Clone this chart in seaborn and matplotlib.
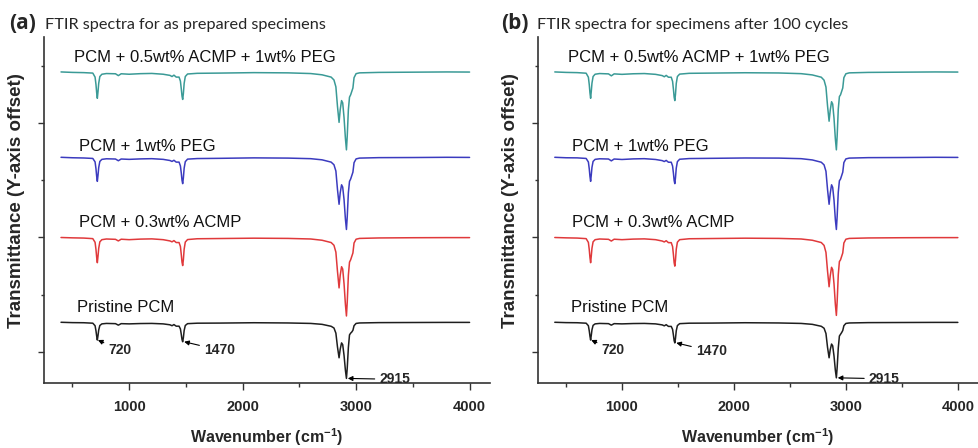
import numpy as np
import pandas as pd
import seaborn as sns
import matplotlib
matplotlib.use("Agg")
import matplotlib.pyplot as plt
from matplotlib.ticker import MultipleLocator, FixedLocator

# ---------------- data ----------------
wavenumber = [400, 500, 600, 680, 700, 708, 714, 720, 726, 732,
              742, 760, 800, 880, 905, 930, 1000, 1100, 1200, 1300,
              1360, 1378, 1395, 1415, 1440, 1452, 1460, 1466, 1472, 1478,
              1485, 1495, 1515, 1600, 1800, 2100, 2400, 2600, 2700, 2780,
              2805, 2822, 2836, 2850, 2860, 2872, 2882, 2894, 2906, 2915,
              2922, 2932, 2942, 2952, 2962, 2972, 2982, 3000, 3030, 3200,
              3500, 3800, 4000]

series_names = ["PCM + 0.5wt% ACMP + 1wt% PEG", "PCM + 1wt% PEG",
                "PCM + 0.3wt% ACMP", "Pristine PCM"]
offsets = [3.445, 2.70, 2.00, 1.26]          # y-axis offset of each trace

# absorption depth below each trace's baseline, panel (a)
a_teal = [0.000, 0.004, 0.006, 0.010, 0.045, 0.110, 0.180, 0.230, 0.170, 0.100,
          0.040, 0.020, 0.014, 0.016, 0.032, 0.016, 0.020, 0.015, 0.013, 0.020,
          0.030, 0.040, 0.028, 0.045, 0.045, 0.080, 0.150, 0.210, 0.240, 0.190,
          0.100, 0.040, 0.018, 0.012, 0.010, 0.006, 0.008, 0.014, 0.025, 0.045,
          0.070, 0.130, 0.300, 0.440, 0.330, 0.250, 0.270, 0.400, 0.580, 0.680,
          0.560, 0.330, 0.220, 0.200, 0.170, 0.140, 0.050, 0.015, 0.008, 0.004,
          0.002, 0.000, 0.001]
a_blue = [0.000, 0.004, 0.006, 0.010, 0.040, 0.100, 0.165, 0.210, 0.155, 0.090,
          0.036, 0.018, 0.013, 0.015, 0.030, 0.015, 0.018, 0.014, 0.012, 0.018,
          0.028, 0.036, 0.026, 0.042, 0.042, 0.075, 0.140, 0.200, 0.230, 0.180,
          0.095, 0.038, 0.016, 0.011, 0.009, 0.005, 0.007, 0.012, 0.022, 0.042,
          0.065, 0.120, 0.280, 0.410, 0.310, 0.240, 0.260, 0.370, 0.540, 0.630,
          0.520, 0.310, 0.210, 0.190, 0.160, 0.130, 0.047, 0.014, 0.007, 0.003,
          0.002, 0.000, 0.001]
a_red = [0.000, 0.003, 0.005, 0.010, 0.042, 0.105, 0.172, 0.220, 0.162, 0.095,
         0.038, 0.019, 0.013, 0.016, 0.030, 0.015, 0.019, 0.014, 0.012, 0.019,
         0.030, 0.038, 0.027, 0.044, 0.044, 0.078, 0.152, 0.215, 0.245, 0.195,
         0.102, 0.040, 0.018, 0.011, 0.009, 0.006, 0.008, 0.013, 0.024, 0.044,
         0.068, 0.128, 0.295, 0.440, 0.330, 0.255, 0.275, 0.405, 0.585, 0.685,
         0.565, 0.330, 0.215, 0.195, 0.165, 0.135, 0.048, 0.015, 0.008, 0.004,
         0.002, 0.001, 0.001]
a_black = [0.000, 0.003, 0.004, 0.008, 0.030, 0.075, 0.120, 0.155, 0.115, 0.068,
           0.028, 0.014, 0.010, 0.012, 0.025, 0.012, 0.014, 0.011, 0.010, 0.014,
           0.022, 0.030, 0.020, 0.034, 0.034, 0.058, 0.108, 0.150, 0.170, 0.135,
           0.072, 0.028, 0.012, 0.008, 0.007, 0.004, 0.006, 0.010, 0.018, 0.035,
           0.050, 0.095, 0.215, 0.310, 0.235, 0.180, 0.195, 0.290, 0.420, 0.490,
           0.400, 0.220, 0.110, 0.095, 0.085, 0.070, 0.030, 0.010, 0.006, 0.003,
           0.002, 0.001, 0.001]

# panel (b)
b_teal = [0.000, 0.004, 0.006, 0.011, 0.046, 0.112, 0.182, 0.230, 0.168, 0.098,
          0.040, 0.020, 0.014, 0.017, 0.034, 0.017, 0.021, 0.016, 0.014, 0.021,
          0.032, 0.042, 0.030, 0.046, 0.046, 0.082, 0.155, 0.220, 0.250, 0.195,
          0.100, 0.040, 0.019, 0.012, 0.010, 0.007, 0.009, 0.015, 0.026, 0.046,
          0.072, 0.132, 0.295, 0.430, 0.335, 0.260, 0.280, 0.405, 0.585, 0.680,
          0.560, 0.325, 0.215, 0.200, 0.170, 0.140, 0.050, 0.016, 0.008, 0.004,
          0.002, 0.000, 0.001]
b_blue = [0.000, 0.004, 0.005, 0.010, 0.041, 0.102, 0.166, 0.210, 0.152, 0.088,
          0.036, 0.018, 0.013, 0.015, 0.031, 0.015, 0.019, 0.014, 0.012, 0.019,
          0.029, 0.037, 0.027, 0.043, 0.043, 0.076, 0.142, 0.202, 0.230, 0.178,
          0.094, 0.038, 0.017, 0.011, 0.009, 0.006, 0.007, 0.012, 0.023, 0.043,
          0.066, 0.122, 0.280, 0.410, 0.315, 0.240, 0.262, 0.375, 0.545, 0.630,
          0.515, 0.305, 0.205, 0.190, 0.160, 0.130, 0.046, 0.014, 0.007, 0.003,
          0.002, 0.000, 0.001]
b_red = [0.000, 0.003, 0.005, 0.010, 0.043, 0.107, 0.174, 0.220, 0.160, 0.094,
         0.038, 0.019, 0.013, 0.016, 0.031, 0.015, 0.019, 0.014, 0.012, 0.019,
         0.031, 0.039, 0.028, 0.045, 0.045, 0.079, 0.154, 0.220, 0.250, 0.196,
         0.102, 0.041, 0.019, 0.011, 0.009, 0.006, 0.008, 0.013, 0.024, 0.044,
         0.069, 0.130, 0.292, 0.430, 0.335, 0.260, 0.280, 0.405, 0.585, 0.680,
         0.560, 0.325, 0.210, 0.195, 0.165, 0.135, 0.048, 0.015, 0.008, 0.004,
         0.002, 0.001, 0.001]
b_black = [0.000, 0.003, 0.004, 0.008, 0.030, 0.076, 0.121, 0.155, 0.113, 0.066,
           0.027, 0.014, 0.010, 0.012, 0.025, 0.012, 0.014, 0.011, 0.010, 0.014,
           0.023, 0.031, 0.021, 0.036, 0.036, 0.062, 0.115, 0.160, 0.180, 0.140,
           0.074, 0.029, 0.012, 0.008, 0.007, 0.004, 0.006, 0.010, 0.018, 0.035,
           0.052, 0.098, 0.218, 0.310, 0.240, 0.190, 0.205, 0.295, 0.420, 0.485,
           0.395, 0.225, 0.120, 0.105, 0.090, 0.072, 0.030, 0.010, 0.006, 0.003,
           0.002, 0.001, 0.001]

panel_series = [[a_teal, a_blue, a_red, a_black],
                [b_teal, b_blue, b_red, b_black]]
panel_letters = ["(a)", "(b)"]
panel_titles = ["FTIR spectra for as prepared specimens",
                "FTIR spectra for specimens after 100 cycles"]

peak_labels = ["720", "1470", "2915"]
peak_positions = [720, 1470, 2915]

x_major = [1000, 2000, 3000, 4000]

# ---------------- style ----------------
sns.set_style("ticks")
plt.rcParams["font.family"] = ["Liberation Sans", "DejaVu Sans"]
plt.rcParams["mathtext.default"] = "regular"

colors = ["#3A9A96", "#3B3BBF", "#E0393B", "#1E1E1E"]
label_dy = [0.13, 0.09, 0.13, 0.13]
label_x = [515, 558, 558, 545]
ann_text_dx = [97, 190, 290]
ann_text_dy = [-0.088, -0.073, -0.008]
ann_head_dx = [5, 15, 12]

fig = plt.figure(figsize=(9.79, 4.48), dpi=100)
axes = [fig.add_axes([44 / 979, 65 / 448, 446 / 979, 346 / 448]),
        fig.add_axes([538 / 979, 65 / 448, 440 / 979, 346 / 448])]
title_x = [9 / 979, 501 / 979]
title_x2 = [45 / 979, 537 / 979]
wn = np.asarray(wavenumber)

for p, ax in enumerate(axes):
    frames = []
    for i, (name, depth) in enumerate(zip(series_names, panel_series[p])):
        y = offsets[i] - np.asarray(depth)
        frames.append(pd.DataFrame({"wavenumber": wavenumber, "T": y, "series": name}))
    df = pd.concat(frames, ignore_index=True)
    sns.lineplot(data=df, x="wavenumber", y="T", hue="series",
                 palette=dict(zip(series_names, colors)), estimator=None,
                 sort=False, linewidth=1.1, legend=False, ax=ax)

    for i, name in enumerate(series_names):
        ax.text(label_x[i], offsets[i] + label_dy[i], name, fontsize=12,
                ha="left", va="center", color="#111111")

    # annotations on the pristine spectrum
    black = panel_series[p][3]
    for k, lab in enumerate(peak_labels):
        idx = int(np.argmin(np.abs(wn - peak_positions[k])))
        py = offsets[3] - black[idx]
        ax.annotate(lab, xy=(peak_positions[k] + ann_head_dx[k], py),
                    xytext=(peak_positions[k] + ann_text_dx[k], py + ann_text_dy[k]),
                    fontsize=10, fontweight="bold", ha="left", va="center",
                    arrowprops=dict(arrowstyle="-|>", color="black", lw=0.8,
                                    mutation_scale=7, shrinkA=1, shrinkB=0))

    ax.set_xlim(250, 4180)
    ax.set_ylim(0.73, 3.75)
    ax.xaxis.set_major_locator(FixedLocator(x_major))
    ax.xaxis.set_minor_locator(MultipleLocator(500))
    ax.yaxis.set_major_locator(FixedLocator([1, 2, 3]))
    ax.yaxis.set_minor_locator(FixedLocator([1.5, 2.5, 3.5]))
    ax.set_yticklabels([])
    ax.set_xticklabels([str(v) for v in x_major], fontsize=10.5, fontweight="bold")
    ax.tick_params(axis="x", which="major", length=5, width=1, pad=7, color="#333333")
    ax.tick_params(axis="x", which="minor", length=3, width=1, color="#333333")
    ax.tick_params(axis="y", which="major", length=4.5, width=1, color="#333333")
    ax.tick_params(axis="y", which="minor", length=2.5, width=1, color="#333333")
    sns.despine(ax=ax)
    for s in ["left", "bottom"]:
        ax.spines[s].set_color("#333333")
        ax.spines[s].set_linewidth(1.2)

    ax.set_xlabel("Wavenumber (cm$^{-1}$)", fontsize=11.5, fontweight="bold")
    ax.set_ylabel("Transmittance (Y-axis offset)", fontsize=13.5, fontweight="bold")
    ax.xaxis.set_label_coords(0.5, -0.125)
    ax.yaxis.set_label_coords(-0.043 if p == 0 else -0.044, 0.526)

    fig.text(title_x[p], 1 - 29 / 448, panel_letters[p], fontsize=15,
             fontweight="bold", family=["Open Sans", "DejaVu Sans"], va="baseline")
    fig.text(title_x2[p], 1 - 29 / 448, panel_titles[p], fontsize=11.7,
             family=["Lato", "DejaVu Sans"], va="baseline")

fig.savefig("out.png", dpi=100)
